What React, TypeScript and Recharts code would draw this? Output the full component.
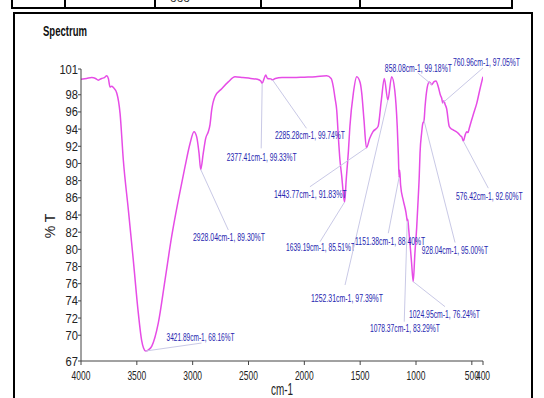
import React from 'react';
import { LineChart, Line, XAxis, YAxis, ReferenceDot } from 'recharts';

// IR spectrum, wavenumber (cm-1) vs transmittance (%T)
const wavenumbers = [
  4000, 3950, 3904, 3870, 3845, 3815, 3790, 3770, 3755, 3740, 3725, 3710, 3680, 3650, 3621,
  3576, 3532, 3487, 3457, 3440, 3421.89, 3395, 3367, 3308, 3248, 3188, 3129, 3069, 3024, 2988,
  2964, 2943, 2928.04, 2905, 2884, 2860, 2845, 2830, 2800, 2740, 2681, 2621, 2550, 2480, 2420,
  2390, 2377.41, 2360, 2346, 2330, 2300, 2285.28, 2260, 2200, 2100, 2000, 1900, 1800, 1760, 1740,
  1725, 1710, 1695, 1681, 1665, 1651, 1639.19, 1625, 1605, 1592, 1561, 1531, 1500, 1486, 1466,
  1443.77, 1415, 1385, 1340, 1310, 1284, 1252.31, 1218, 1190, 1168, 1158, 1151.38, 1146, 1138, 1114,
  1090, 1082, 1078.37, 1074, 1065, 1054, 1040, 1024.95, 1010, 994, 980, 971, 964, 950, 940,
  928.04, 919, 899, 881, 858.08, 840, 821, 800, 780, 770, 760.96, 750, 740, 726, 702,
  680, 666, 640, 621, 600, 590, 576.42, 560, 546, 535, 523, 501, 480, 456, 430, 400,
];
const transmittance = [
  99.8, 99.9, 100.0, 99.9, 99.7, 99.9, 100.0, 100.2, 99.9, 98.9, 99.0, 98.85, 98.2, 95.8, 90.4,
  84.6, 78.8, 72.6, 69.4, 68.5, 68.16, 68.3, 68.7, 71.4, 76.4, 81.5, 85.7, 89.6, 92.3, 93.7,
  93.1, 91.2, 89.3, 91.2, 92.9, 93.7, 94.5, 96.2, 97.8, 98.7, 99.5, 100.1, 100.0, 99.9, 99.8,
  99.6, 99.33, 99.9, 100.3, 99.9, 99.85, 99.74, 99.9, 100.0, 100.0, 100.05, 100.1, 100.2, 99.9, 98.9,
  97.6, 96.2, 93.0, 90.4, 88.5, 86.5, 85.51, 88.1, 91.5, 94.3, 98.2, 100.1, 99.4, 98.2, 95.1,
  91.83, 92.9, 93.7, 94.3, 97.4, 99.9, 97.39, 100.1, 98.5, 94.3, 91.0, 88.4, 89.2, 87.5, 85.7,
  84.3, 83.6, 83.29, 83.5, 82.3, 80.7, 78.5, 76.24, 79.5, 82.5, 86.0, 88.5, 91.2, 93.5, 94.6,
  95.0, 96.6, 98.9, 99.5, 99.18, 99.5, 99.6, 98.9, 97.9, 97.6, 97.05, 97.3, 96.9, 96.4, 94.3,
  94.0, 93.9, 93.7, 93.5, 93.2, 93.1, 92.6, 93.3, 93.7, 93.6, 94.1, 95.1, 96.0, 97.0, 98.5, 100.1,
];

const xTicks = [4000, 3500, 3000, 2500, 2000, 1500, 1000, 500, 400];
const yTicks = [67, 70, 72, 74, 76, 78, 80, 82, 84, 86, 88, 90, 92, 94, 96, 98, 101];

// labelled peaks
const peakWavenumbers = [3421.89, 2928.04, 2377.41, 2285.28, 1639.19, 1443.77, 1252.31, 1151.38, 1078.37, 1024.95, 928.04, 858.08, 760.96, 576.42];
const peakTransmittance = [68.16, 89.3, 99.33, 99.74, 85.51, 91.83, 97.39, 88.4, 83.29, 76.24, 95.0, 99.18, 97.05, 92.6];

// leader end (lx, ly), text start/baseline (tx, ty), text width w -- pixel offsets from the peak
const labelLayout = [
  { lx: 56, ly: -8, tx: 21, ty: -11, w: 68 },
  { lx: 27.6, ly: 60.5, tx: -7.7, ty: 71.5, w: 72 },
  { lx: -1, ly: 65, tx: -35.5, ty: 76.7, w: 70 },
  { lx: 34, ly: 48.5, tx: 2.5, ty: 58.7, w: 70 },
  { lx: -24.6, ly: 39.7, tx: -58.6, ty: 48.5, w: 69 },
  { lx: -56.5, ly: 39, tx: -92.5, ty: 49.7, w: 72.7 },
  { lx: -42.8, ly: 185, tx: -76.8, ty: 201.8, w: 72 },
  { lx: -10.8, ly: 56, tx: -44, ty: 67, w: 70 },
  { lx: -3, ly: 100.6, tx: -37.3, ty: 110.4, w: 70 },
  { lx: 31.8, ly: 25, tx: -4.2, ty: 35.9, w: 71 },
  { lx: 31, ly: 122, tx: -2.3, ty: 133, w: 66.3 },
  { lx: -14, ly: -11.6, tx: -47, ty: -13.6, w: 67 },
  { lx: 40.3, ly: -35, tx: 10.3, ty: -37.4, w: 67 },
  { lx: 25, ly: 47, tx: -7.3, ty: 58, w: 66.7 },
];

const data = wavenumbers.map((wn, i) => ({ wn, t: transmittance[i] }));

const FONT = 'Liberation Sans, Arial, sans-serif';

const XTick = (props: any) => {
  const { x, y, payload } = props;
  const s = String(payload.value);
  return (
    <text x={x} y={y + 12.5} textAnchor="middle" fontSize={13.5} fontFamily={FONT} fill="#222"
      textLength={s.length * 4.7} lengthAdjust="spacingAndGlyphs">{s}</text>
  );
};

const YTick = (props: any) => {
  const { x, y, payload } = props;
  const s = String(payload.value);
  return (
    <text x={x} y={y + 4.5} textAnchor="end" fontSize={12.5} fontFamily={FONT} fill="#222"
      textLength={s.length * 6.2} lengthAdjust="spacingAndGlyphs">{s}</text>
  );
};

const makePeakShape = (i: number) => (props: any) => {
  const { cx, cy } = props;
  const l = labelLayout[i];
  const txt = `${peakWavenumbers[i].toFixed(2)}cm-1, ${peakTransmittance[i].toFixed(2)}%T`;
  return (
    <g>
      <line x1={cx} y1={cy} x2={cx + l.lx} y2={cy + l.ly} stroke="#c9c9e6" strokeWidth={1} />
      <text x={cx + l.tx} y={cy + l.ty + 0.5} fontSize={11} fontFamily={FONT} fill="#2626b0"
        textLength={l.w} lengthAdjust="spacingAndGlyphs">{txt}</text>
    </g>
  );
};

export default function App() {
  return (
    <div style={{ position: 'absolute', left: 0, top: 0, width: 544, height: 398, background: '#fff', overflow: 'hidden' }}>
      <LineChart width={544} height={398} data={data} margin={{ top: 69, right: 61, bottom: 0, left: 0 }}>
        <XAxis dataKey="wn" type="number" domain={[400, 4000]} reversed ticks={xTicks} interval={0}
          height={37} stroke="#444" tickSize={4} tickMargin={2} tick={<XTick />} allowDataOverflow />
        <YAxis type="number" domain={[67, 101]} ticks={yTicks} interval={0} width={81}
          stroke="#444" tickSize={3} tickMargin={0} tick={<YTick />} allowDataOverflow />
        <Line type="monotone" dataKey="t" stroke="#e64ce6" strokeWidth={1.5} dot={false} isAnimationActive={false} />
        {peakWavenumbers.map((wn, i) => (
          <ReferenceDot key={wn} x={wn} y={peakTransmittance[i]} r={0} shape={makePeakShape(i)} ifOverflow="visible" />
        ))}
      </LineChart>
      <svg width={544} height={398} style={{ position: 'absolute', left: 0, top: 0, pointerEvents: 'none' }}>
        {/* bit of the table above */}
        <line x1={11} y1={8} x2={513} y2={8} stroke="#000" strokeWidth={2} />
        {[12, 65, 155, 261, 360, 512].map((x) => (
          <line key={x} x1={x} y1={0} x2={x} y2={8} stroke="#000" strokeWidth={2} />
        ))}
        <text x={170} y={2} fontSize={12} fontFamily={FONT} fill="#333">ooo</text>
        {/* frame */}
        <line x1={14} y1={12} x2={14} y2={398} stroke="#000" strokeWidth={2} />
        <line x1={13} y1={13} x2={533} y2={13} stroke="#000" strokeWidth={2} />
        <line x1={532} y1={12} x2={532} y2={398} stroke="#000" strokeWidth={2} />
        <text x={43} y={35.5} fontSize={15} fontWeight="bold" fontFamily={FONT} fill="#111"
          textLength={44} lengthAdjust="spacingAndGlyphs">Spectrum</text>
        <text x={0} y={0} transform="translate(55,226) rotate(-90)" textAnchor="middle" fontSize={14}
          fontFamily={FONT} fill="#222">% T</text>
        <text x={282} y={395} textAnchor="middle" fontSize={16} fontFamily={FONT} fill="#222"
          textLength={22} lengthAdjust="spacingAndGlyphs">cm-1</text>
      </svg>
    </div>
  );
}
